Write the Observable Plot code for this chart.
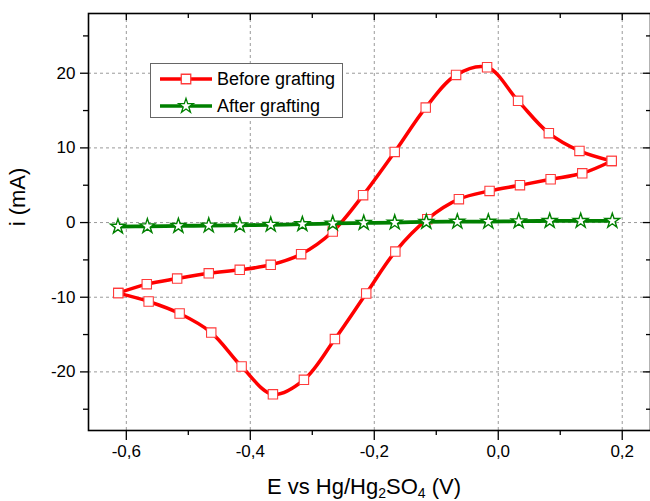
<!DOCTYPE html>
<html>
<head>
<meta charset="utf-8">
<script src="https://cdn.jsdelivr.net/npm/d3@7"></script>
<script src="https://cdn.jsdelivr.net/npm/@observablehq/plot@0.6"></script>
<style>
  html, body { margin: 0; padding: 0; background: #fff; }
  #chart { width: 650px; height: 501px; overflow: hidden; }
</style>
</head>
<body>
<div id="chart"></div>
<script>
// ---- Data ----
// "Before grafting": two branches of the cyclic voltammogram
const potentialA = [-0.613, -0.564, -0.514, -0.463, -0.414, -0.3635, -0.3135, -0.2635, -0.213, -0.166, -0.1145, -0.0635, -0.014, 0.035, 0.0845, 0.1355, 0.183];
const currentA   = [-9.45, -10.57, -12.18, -14.73, -19.28, -23.0, -21.06, -15.6, -9.5, -3.88, 0.45, 3.13, 4.24, 5.0, 5.8, 6.6, 8.25];
const potentialB = [-0.613, -0.567, -0.518, -0.467, -0.417, -0.367, -0.318, -0.267, -0.218, -0.167, -0.117, -0.068, -0.018, 0.032, 0.0816, 0.131, 0.183];
const currentB   = [-9.45, -8.25, -7.5, -6.8, -6.33, -5.66, -4.23, -1.2, 3.67, 9.46, 15.4, 19.77, 20.8, 16.3, 11.97, 9.6, 8.25];
// "After grafting"
const potentialAfter = [-0.6135, -0.566, -0.516, -0.467, -0.417, -0.367, -0.316, -0.267, -0.217, -0.167, -0.116, -0.066, -0.016, 0.033, 0.083, 0.133, 0.184];
const currentAfter   = [-0.55, -0.5, -0.45, -0.4, -0.36, -0.3, -0.22, -0.12, -0.05, 0.0, 0.09, 0.13, 0.13, 0.18, 0.22, 0.23, 0.23];

const seriesNames = ["Before grafting", "After grafting"];
const xMajor = [-0.6, -0.4, -0.2, 0.0, 0.2];
const xMinor = [-0.5, -0.3, -0.1, 0.1];
const yMajor = [-20, -10, 0, 10, 20];
const yMinor = [-25, -15, -5, 5, 15, 25];
const xTitle = ["E vs Hg/Hg", "2", "SO", "4", " (V)"];
const yTitle = "i (mA)";

// ---- Build tables ----
const before = [
  ...potentialA.map((x, i) => ({x, y: currentA[i], branch: "A"})),
  ...potentialB.map((x, i) => ({x, y: currentB[i], branch: "B"}))
];
const after = potentialAfter.map((x, i) => ({x, y: currentAfter[i]}));

const W = 650, H = 501, mL = 88, mT = 13, mR = 0, mB = 71;
const plotW = W - mL - mR, plotH = H - mT - mB;
const RED = "#ff0000", GREEN = "#008000";
const fmtX = d => d.toFixed(1).replace(".", ",").replace("\u2212", "-");
const fmtY = d => String(d);

const chart = Plot.plot({
  width: W, height: H,
  marginLeft: mL, marginTop: mT, marginRight: mR, marginBottom: mB,
  style: {fontFamily: "'Liberation Sans', Arial, sans-serif", fontSize: "17px", color: "#000", background: "#fff", overflow: "visible"},
  x: {domain: [-0.661, 0.2456]},
  y: {domain: [-27.85, 28.0]},
  marks: [
    Plot.gridX(xMajor, {stroke: "#9a9a9a", strokeOpacity: 1, strokeWidth: 1, strokeDasharray: "3,3"}),
    Plot.gridY(yMajor, {stroke: "#9a9a9a", strokeOpacity: 1, strokeWidth: 1, strokeDasharray: "3,3"}),
    // bottom / left axes (outward ticks)
    Plot.axisX(xMajor, {tickSize: 10, tickPadding: 4, tickFormat: fmtX, label: null, fontSize: 17, strokeWidth: 1.3}),
    Plot.axisX(xMinor, {tickSize: 5, tickFormat: () => "", label: null, strokeWidth: 1.3}),
    Plot.axisY(yMajor, {tickSize: 8, tickPadding: 5, tickFormat: fmtY, label: null, fontSize: 17, strokeWidth: 1.3}),
    Plot.axisY(yMinor, {tickSize: 5, tickFormat: () => "", label: null, strokeWidth: 1.3}),
    // top / right mirrored inward ticks
    Plot.ruleX(xMajor, {insetBottom: plotH - 7, stroke: "#000", strokeWidth: 1.3}),
    Plot.ruleX(xMinor, {insetBottom: plotH - 5, stroke: "#000", strokeWidth: 1.3}),
    Plot.ruleY(yMajor, {insetLeft: plotW - 7, stroke: "#000", strokeWidth: 1.3}),
    Plot.ruleY(yMinor, {insetLeft: plotW - 4, stroke: "#000", strokeWidth: 1.3}),
    // data
    Plot.line(before, {x: "x", y: "y", z: "branch", stroke: RED, strokeWidth: 3.5, curve: "catmull-rom"}),
    Plot.dot(before, {x: "x", y: "y", symbol: "square", r: 5.3, fill: "#fff", stroke: "#ff3b3b", strokeWidth: 1.1}),
    Plot.line(after, {x: "x", y: "y", stroke: GREEN, strokeWidth: 3.8, curve: "catmull-rom"}),
    Plot.dot(after, {x: "x", y: "y", symbol: "star", r: 4.6, fill: "#fff", stroke: GREEN, strokeWidth: 1.4}),
    Plot.frame({stroke: "#000", strokeWidth: 1.6})
  ]
});

document.getElementById("chart").appendChild(chart);

// ---- Titles and legend ----
const svg = d3.select(chart);
const ff = "'Liberation Sans', Arial, sans-serif";

// x title with subscripts
const xt = svg.append("text")
  .attr("x", 364).attr("y", 494)
  .attr("text-anchor", "middle")
  .attr("font-family", ff).attr("font-size", 22).attr("fill", "#000");
xTitle.forEach((s, i) => {
  const sub = i === 1 || i === 3;
  const t = xt.append("tspan").text(s);
  if (sub) t.attr("font-size", 14).attr("dy", 4);
  else if (i > 0) t.attr("dy", -4);
});

svg.append("text")
  .attr("transform", "translate(25,197) rotate(-90)")
  .attr("text-anchor", "middle")
  .attr("font-family", ff).attr("font-size", 22).attr("fill", "#000")
  .text(yTitle);

// legend
const lg = svg.append("g").attr("text-anchor", "start");
lg.append("rect").attr("x", 150.5).attr("y", 63.5).attr("width", 192).attr("height", 54)
  .attr("fill", "#fff").attr("stroke", "#666").attr("stroke-width", 1);
const rows = [
  {name: seriesNames[0], color: RED, mk: d3.symbolSquare, size: 90, mstroke: "#ff3b3b", y: 79},
  {name: seriesNames[1], color: GREEN, mk: d3.symbolStar, size: 66, mstroke: GREEN, y: 106}
];
rows.forEach(r => {
  lg.append("line").attr("x1", 160).attr("x2", 212).attr("y1", r.y).attr("y2", r.y)
    .attr("stroke", r.color).attr("stroke-width", 3.5);
  lg.append("path").attr("d", d3.symbol(r.mk, r.size)())
    .attr("transform", `translate(186,${r.y})`)
    .attr("fill", "#fff").attr("stroke", r.mstroke).attr("stroke-width", 1.3);
  lg.append("text").attr("x", 217).attr("y", r.y).attr("dy", "0.35em")
    .attr("text-anchor", "start")
    .attr("font-family", ff).attr("font-size", 18).attr("fill", "#000")
    .text(r.name);
});
</script>
</body>
</html>
